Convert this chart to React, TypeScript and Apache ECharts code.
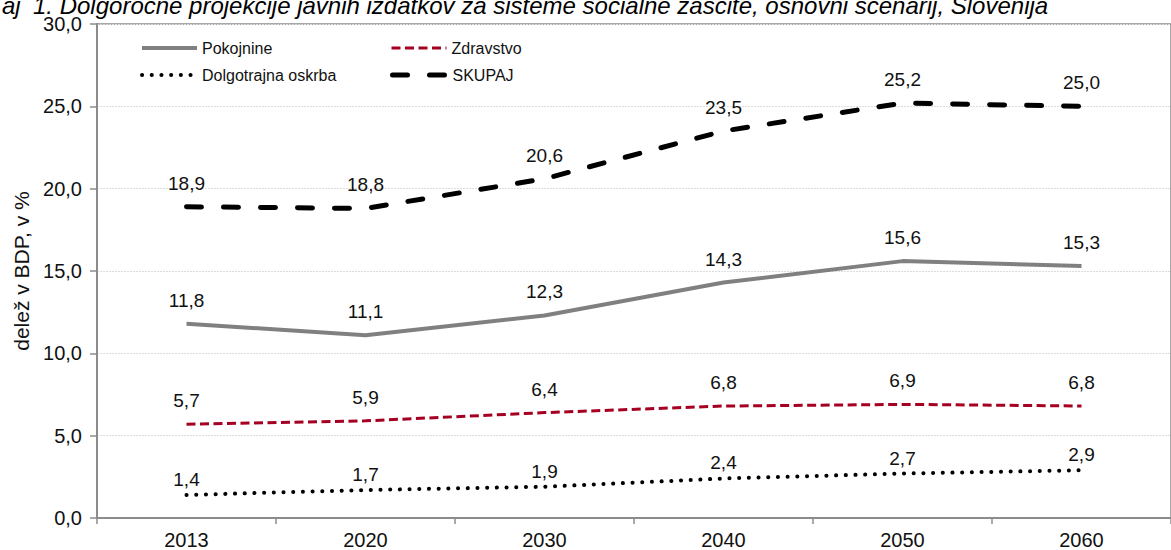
import React, { useEffect, useRef } from "react";
import * as echarts from "echarts";

// Years on the category axis
const years = ["2013", "2020", "2030", "2040", "2050", "2060"];

// Shares of GDP, in %
const pokojnine = [11.8, 11.1, 12.3, 14.3, 15.6, 15.3];
const zdravstvo = [5.7, 5.9, 6.4, 6.8, 6.9, 6.8];
const dolgotrajnaOskrba = [1.4, 1.7, 1.9, 2.4, 2.7, 2.9];
const skupaj = [18.9, 18.8, 20.6, 23.5, 25.2, 25.0];

const titlePrefix = "aj";
const titleText =
  "1. Dolgoročne projekcije javnih izdatkov za sisteme socialne zaščite, osnovni scenarij, Slovenija";

const FONT = "'Liberation Sans', Arial, sans-serif";
const fmt = (v: number) => v.toFixed(1).replace(".", ",");

export default function App() {
  const ref = useRef<HTMLDivElement>(null);

  useEffect(() => {
    if (!ref.current) return;
    const chart = echarts.init(ref.current, undefined, { renderer: "svg" });

    const label = (distance: number) => ({
      show: true,
      position: "top" as const,
      distance,
      formatter: (p: any) => fmt(p.value),
      color: "#111",
      fontFamily: FONT,
      fontSize: 19,
    });

    const legendItem = (name: string, left: number, top: number, lineStyle: any) => ({
      data: [name],
      left,
      top,
      padding: 0,
      itemWidth: 55,
      itemHeight: 14,
      itemGap: 0,
      itemStyle: { opacity: 0 },
      lineStyle,
      textStyle: { fontFamily: FONT, fontSize: 16, color: "#111" },
      selectedMode: false,
    });

    chart.setOption({
      animation: false,
      backgroundColor: "#fff",
      textStyle: { fontFamily: FONT },
      grid: {
        left: 97,
        right: -12,
        top: 24,
        bottom: 32,
        show: true,
        borderColor: "#8c8c8c",
        borderWidth: 1.5,
      },
      legend: [
        legendItem("Pokojnine", 140, 40, { width: 4 }),
        legendItem("Zdravstvo", 390, 40, { width: 3 }),
        legendItem("Dolgotrajna oskrba", 140, 67, { width: 4 }),
        legendItem("SKUPAJ", 390, 67, { width: 5 }),
      ],
      xAxis: {
        type: "category",
        data: years,
        boundaryGap: true,
        axisLine: { lineStyle: { color: "#8c8c8c", width: 2 } },
        axisTick: { show: true, length: 6, lineStyle: { color: "#8c8c8c", width: 1.5 } },
        axisLabel: { color: "#111", fontFamily: FONT, fontSize: 20, margin: 12 },
        splitLine: { show: false },
      },
      yAxis: {
        type: "value",
        min: 0,
        max: 30,
        interval: 5,
        name: "delež v BDP, v %",
        nameLocation: "middle",
        nameRotate: 90,
        nameGap: 64,
        nameTextStyle: { color: "#111", fontFamily: FONT, fontSize: 21 },
        axisLine: { show: true, lineStyle: { color: "#8c8c8c", width: 2 } },
        axisTick: { show: true, length: 7, lineStyle: { color: "#8c8c8c", width: 1.5 } },
        axisLabel: {
          color: "#111",
          fontFamily: FONT,
          fontSize: 20,
          margin: 15,
          formatter: (v: number) => fmt(v),
        },
        splitLine: { show: true, lineStyle: { color: "#dcdcdc", width: 1, type: [2, 1] } },
      },
      series: [
        {
          name: "Pokojnine",
          type: "line",
          data: pokojnine,
          symbol: "circle",
          symbolSize: 0,
          lineStyle: { color: "#808080", width: 4 },
          itemStyle: { color: "#808080" },
          label: label(14),
        },
        {
          name: "Zdravstvo",
          type: "line",
          data: zdravstvo,
          symbol: "circle",
          symbolSize: 0,
          lineStyle: { color: "#a50021", width: 3, type: [9, 4.5] },
          itemStyle: { color: "#a50021" },
          label: label(14),
        },
        {
          name: "Dolgotrajna oskrba",
          type: "line",
          data: dolgotrajnaOskrba,
          symbol: "circle",
          symbolSize: 0,
          lineStyle: { color: "#000", width: 4, type: [0.1, 9.6], cap: "round" },
          itemStyle: { color: "#000" },
          label: label(6),
        },
        {
          name: "SKUPAJ",
          type: "line",
          data: skupaj,
          symbol: "circle",
          symbolSize: 0,
          lineStyle: { color: "#000", width: 5, type: [15, 22], cap: "round" },
          itemStyle: { color: "#000" },
          label: label(14),
        },
      ],
      graphic: [
        {
          type: "text",
          left: 2,
          top: -7,
          style: { text: titlePrefix, fill: "#000", font: `italic 24px ${FONT}` },
        },
        {
          type: "text",
          left: 33,
          top: -7,
          style: { text: titleText, fill: "#000", font: `italic 24px ${FONT}` },
        },
      ],
    });

    return () => chart.dispose();
  }, []);

  return (
    <div
      ref={ref}
      style={{ position: "absolute", left: 0, top: 0, width: 1171, height: 550, overflow: "hidden" }}
    />
  );
}
